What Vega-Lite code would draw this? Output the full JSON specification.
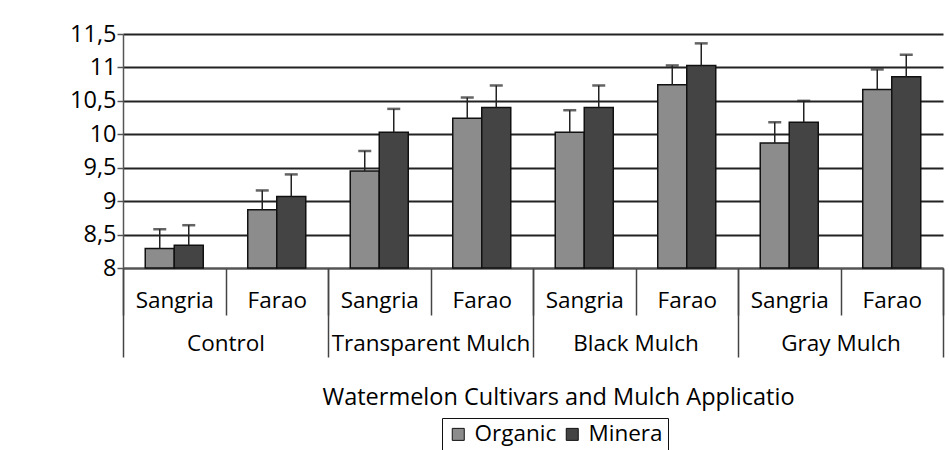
{
  "$schema": "https://vega.github.io/schema/vega-lite/v6.json",
  "width": 820,
  "height": 234,
  "autosize": {"type": "none"},
  "padding": {"left": 123, "top": 34, "right": 6, "bottom": 182},
  "background": "white",
  "config": {
    "view": {"stroke": null},
    "font": "Open Sans",
    "axis": {"labelColor": "#000", "titleColor": "#000", "titleFontWeight": "normal"},
    "axisY": {
      "title": null,
      "values": [8, 8.5, 9, 9.5, 10, 10.5, 11, 11.5],
      "format": ".1~f",
      "labelExpr": "replace(datum.label, '.', ',')",
      "grid": true,
      "gridColor": "#222",
      "gridWidth": 1.8,
      "domainColor": "#555",
      "domainWidth": 1.5,
      "tickColor": "#555",
      "tickSize": 6,
      "tickWidth": 1.5,
      "labelFontSize": 23.5,
      "labelPadding": 1
    },
    "legend": {"labelColor": "#000"}
  },
  "data": {
    "values": [
      {"mulch": "Control", "cultivar": "Sangria", "fert": "Organic", "mean": 8.29, "hi": 8.58},
      {"mulch": "Control", "cultivar": "Sangria", "fert": "Mineral", "mean": 8.34, "hi": 8.64},
      {"mulch": "Control", "cultivar": "Farao", "fert": "Organic", "mean": 8.87, "hi": 9.16},
      {"mulch": "Control", "cultivar": "Farao", "fert": "Mineral", "mean": 9.07, "hi": 9.40},
      {"mulch": "Transparent Mulch", "cultivar": "Sangria", "fert": "Organic", "mean": 9.45, "hi": 9.75},
      {"mulch": "Transparent Mulch", "cultivar": "Sangria", "fert": "Mineral", "mean": 10.03, "hi": 10.38},
      {"mulch": "Transparent Mulch", "cultivar": "Farao", "fert": "Organic", "mean": 10.24, "hi": 10.55},
      {"mulch": "Transparent Mulch", "cultivar": "Farao", "fert": "Mineral", "mean": 10.40, "hi": 10.73},
      {"mulch": "Black Mulch", "cultivar": "Sangria", "fert": "Organic", "mean": 10.03, "hi": 10.36},
      {"mulch": "Black Mulch", "cultivar": "Sangria", "fert": "Mineral", "mean": 10.40, "hi": 10.73},
      {"mulch": "Black Mulch", "cultivar": "Farao", "fert": "Organic", "mean": 10.74, "hi": 11.03},
      {"mulch": "Black Mulch", "cultivar": "Farao", "fert": "Mineral", "mean": 11.03, "hi": 11.36},
      {"mulch": "Gray Mulch", "cultivar": "Sangria", "fert": "Organic", "mean": 9.87, "hi": 10.18},
      {"mulch": "Gray Mulch", "cultivar": "Sangria", "fert": "Mineral", "mean": 10.18, "hi": 10.50},
      {"mulch": "Gray Mulch", "cultivar": "Farao", "fert": "Organic", "mean": 10.67, "hi": 10.97},
      {"mulch": "Gray Mulch", "cultivar": "Farao", "fert": "Mineral", "mean": 10.86, "hi": 11.19}
    ]
  },
  "transform": [{"calculate": "datum.mulch + '|' + datum.cultivar", "as": "key"}],
  "layer": [
    {
      "layer": [
        {
          "mark": {"type": "bar", "stroke": "#111", "strokeWidth": 1.5},
          "encoding": {
            "x": {
              "field": "key", "type": "nominal", "sort": null,
              "scale": {"type": "band", "paddingInner": 0, "paddingOuter": 0},
              "axis": {
                "title": null,
                "labelExpr": "split(datum.label, '|')[1]",
                "tickBand": "extent",
                "tickSize": 47,
                "tickColor": "#444",
                "tickWidth": 1.5,
                "domainColor": "#555",
                "domainWidth": 1.5,
                "labelFontSize": 22.5,
                "labelAngle": 0,
                "labelBaseline": "middle",
                "labelPadding": -15,
                "labelLimit": 300,
                "grid": false
              }
            },
            "xOffset": {
              "field": "fert", "type": "nominal", "sort": null,
              "scale": {"paddingInner": 0, "paddingOuter": 0.767}
            },
            "y": {
              "field": "mean", "type": "quantitative",
              "scale": {"domain": [8, 11.5], "nice": false, "zero": false}
            },
            "y2": {"datum": 8},
            "color": {
              "field": "fert", "type": "nominal", "sort": null,
              "scale": {"domain": ["Organic", "Mineral"], "range": ["#8c8c8c", "#444444"]},
              "legend": {
                "title": null,
                "orient": "none",
                "legendX": 319,
                "legendY": 384,
                "direction": "horizontal",
                "strokeColor": "#111",
                "fillColor": "white",
                "padding": 5,
                "symbolType": "square",
                "symbolSize": 144,
                "symbolStrokeColor": "#111",
                "symbolStrokeWidth": 1,
                "labelFontSize": 22.5,
                "labelOffset": 5,
                "columnPadding": 4,
                "labelExpr": "datum.label == 'Mineral' ? 'Minera' : datum.label"
              }
            }
          }
        },
        {
          "mark": {"type": "rule", "color": "#222", "strokeWidth": 1.5},
          "encoding": {
            "x": {"field": "key", "type": "nominal", "sort": null},
            "xOffset": {"field": "fert", "type": "nominal", "sort": null},
            "y": {"field": "mean", "type": "quantitative"},
            "y2": {"field": "hi"}
          }
        },
        {
          "mark": {"type": "tick", "color": "#222", "thickness": 2.5, "size": 13},
          "encoding": {
            "x": {"field": "key", "type": "nominal", "sort": null},
            "xOffset": {"field": "fert", "type": "nominal", "sort": null},
            "y": {"field": "hi", "type": "quantitative"}
          }
        }
      ]
    },
    {
      "mark": {"type": "rule", "opacity": 0},
      "encoding": {
        "x": {
          "field": "mulch", "type": "nominal", "sort": null,
          "scale": {"type": "band", "paddingInner": 0, "paddingOuter": 0},
          "axis": {
            "orient": "bottom",
            "title": "Watermelon Cultivars and Mulch Applicatio",
            "tickBand": "extent",
            "tickSize": 89,
            "tickColor": "#444",
            "tickWidth": 1.5,
            "domain": false,
            "grid": false,
            "labelFontSize": 22.5,
            "labelAngle": 0,
            "labelBaseline": "middle",
            "labelPadding": -14,
            "labelLimit": 300,
            "titleFontSize": 23.5,
            "titleX": 435,
            "titleY": 129,
            "titleBaseline": "middle"
          }
        }
      }
    }
  ],
  "resolve": {"scale": {"x": "independent"}}
}
